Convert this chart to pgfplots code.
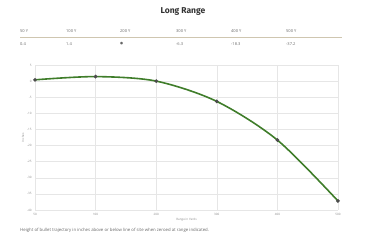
\documentclass[border=0pt]{standalone}
\usepackage{fontspec}
\setmainfont{Open Sans}
\newfontfamily\titlefont{Fira Sans}
\newfontfamily\symfont{DejaVu Sans}
\usepackage{pgfplots}
\pgfplotsset{compat=1.18}
\definecolor{tickgray}{HTML}{888888}
\definecolor{gridgray}{HTML}{E6E6E6}
\definecolor{linegreen}{HTML}{3F7D2A}
\definecolor{tan}{HTML}{CFC6B0}
\definecolor{txt}{HTML}{666666}
\begin{document}
\begin{tikzpicture}
\path (0pt,0pt) rectangle (365pt,240pt);
\node[font=\titlefont\bfseries\fontsize{8.5}{9}\selectfont, text=black!80] at (183pt,228pt) {Long Range};
\foreach \xx/\lab in {20/50 Y,66/100 Y,120/200 Y,176/300 Y,231/400 Y,286/500 Y}{
  \node[anchor=west, inner sep=0, font=\fontsize{4}{4.5}\selectfont, text=txt] at (\xx pt,209pt) {\lab};
}
\draw[tan, line width=0.8pt] (20pt,203pt) -- (342pt,203pt);
\foreach \xx/\lab in {20/0.4,66/1.4,176/-6.3,231/-18.3,286/-37.2}{
  \node[anchor=west, inner sep=0, font=\fontsize{4}{4.5}\selectfont, text=txt] at (\xx pt,196pt) {\lab};
}
\node[anchor=west, inner sep=0, font=\symfont\fontsize{3.5}{4}\selectfont, text=txt] at (120pt,196pt) {●};
\begin{axis}[
  at={(35pt,30pt)}, anchor=south west,
  scale only axis, width=303pt, height=145pt,
  xmin=0, xmax=5, ymin=-40, ymax=5,
  xtick={0,1,2,3,4,5},
  xticklabels={50,100,200,300,400,500},
  ytick={5,0,-5,-10,-15,-20,-25,-30,-35,-40},
  grid=major,
  major grid style={gridgray, line width=0.4pt},
  axis line style={draw=none},
  tick style={draw=none},
  tick label style={font=\fontsize{3}{3.5}\selectfont, text=tickgray},
  /pgf/number format/assume math mode=true,
  xlabel={Range in Yards},
  ylabel={Inches},
  label style={font=\fontsize{3}{3.5}\selectfont, text=tickgray},
  xlabel style={yshift=4pt},
  ylabel style={yshift=-4pt},
  clip=false,
]
\addplot[linegreen, line width=1.6pt, smooth, tension=0.5, mark=*, mark size=0.9pt, mark options={fill=black!70, draw=black!70}]
  coordinates {(0,0.4) (1,1.4) (2,0) (3,-6.3) (4,-18.3) (5,-37.2)};
\end{axis}
\node[anchor=west, inner sep=0, font=\fontsize{4.3}{5}\selectfont, text=txt] at (20pt,10pt) {Height of bullet trajectory in inches above or below line of site when zeroed at range indicated.};
\end{tikzpicture}
\end{document}
